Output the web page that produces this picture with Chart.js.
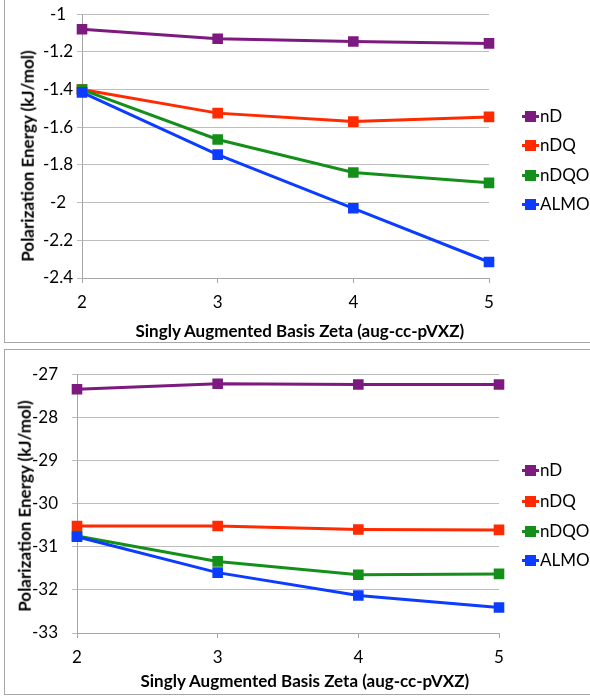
<!DOCTYPE html>
<html>
<head>
<meta charset="utf-8">
<script src="https://cdn.jsdelivr.net/npm/chart.js@4"></script>
<style>
  body { margin: 0; background: #fff; font-family: Lato, sans-serif; }
  .box {
    position: absolute;
    left: 4px;
    width: 600px;
    border: 1px solid #a6a6a6;
    overflow: hidden;
  }
  .box canvas { position: absolute; left: 0; top: 0; }
  .title {
    position: absolute;
    font-size: 17px;
    font-weight: bold;
    white-space: nowrap;
    color: #000;
    line-height: 20px;
  }
  .legend { position: absolute; left: 517px; }
  .legend div {
    position: absolute;
    left: 0;
    height: 20px;
    line-height: 20px;
    white-space: nowrap;
    font-size: 17px;
    color: #000;
  }
  .legend .key {
    display: inline-block;
    position: relative;
    width: 17px;
    height: 3px;
    vertical-align: middle;
    margin-right: 1px;
    margin-top: -2px;
  }
  .legend .key i {
    position: absolute;
    left: 3px;
    top: -4px;
    width: 11px;
    height: 11px;
    background: inherit;
  }
</style>
</head>
<body>

<div class="box" id="box1" style="top:-1px;height:342px">
  <canvas id="c1" width="585" height="342"></canvas>
  <div class="legend" id="lg1"></div>
</div>
<div class="box" id="box2" style="top:349px;height:344px">
  <canvas id="c2" width="585" height="344"></canvas>
  <div class="legend" id="lg2"></div>
</div>

<script>
const zetas = ["2", "3", "4", "5"];
const seriesNames = ["nD", "nDQ", "nDQO", "ALMO"];
const seriesColors = ["#7d1a7f", "#ff2a00", "#14901a", "#0b3cff"];

// upper panel
const topND   = [-1.08, -1.13, -1.145, -1.155];
const topNDQ  = [-1.40, -1.525, -1.57, -1.545];
const topNDQO = [-1.40, -1.665, -1.84, -1.895];
const topALMO = [-1.415, -1.745, -2.03, -2.315];
const topTicks = [-1, -1.2, -1.4, -1.6, -1.8, -2, -2.2, -2.4];

// lower panel
const botND   = [-27.35, -27.22, -27.24, -27.24];
const botNDQ  = [-30.52, -30.52, -30.60, -30.61];
const botNDQO = [-30.75, -31.34, -31.65, -31.63];
const botALMO = [-30.77, -31.60, -32.13, -32.41];
const botTicks = [-27, -28, -29, -30, -31, -32, -33];

const xTitle = "Singly Augmented Basis Zeta (aug-cc-pVXZ)";
const yTitle = "Polarization Energy (kJ/mol)";

function makeChart(canvasId, series, ticks, L) {
  const datasets = series.map((vals, i) => ({
    label: seriesNames[i],
    data: vals,
    borderColor: seriesColors[i],
    backgroundColor: seriesColors[i],
    borderWidth: 3,
    pointStyle: "rect",
    pointRadius: 7.5,
    pointBorderWidth: 0,
    tension: 0,
    order: series.length - i
  }));

  new Chart(document.getElementById(canvasId), {
    type: "line",
    data: { labels: zetas, datasets },
    options: {
      responsive: false,
      animation: false,
      events: [],
      layout: { padding: { left: 0, right: L.padRight, top: L.padTop, bottom: 0 } },
      plugins: { legend: { display: false }, tooltip: { enabled: false } },
      scales: {
        x: {
          type: "category",
          offset: false,
          afterFit: s => { s.height = L.xHeight; },
          grid: { drawOnChartArea: false, drawTicks: true, tickLength: 5, color: "#a6a6a6" },
          border: { color: "#a6a6a6", width: 1 },
          ticks: { padding: 9, color: "#000", font: { family: "Lato", size: 17, lineHeight: 1.2 } }
        },
        y: {
          min: Math.min(...ticks),
          max: Math.max(...ticks),
          afterFit: s => { s.width = L.yWidth; },
          afterBuildTicks: s => { s.ticks = ticks.map(v => ({ value: v })); },
          grid: { color: "#bdbdbd", lineWidth: 1, tickLength: 5 },
          border: { color: "#a6a6a6", width: 1 },
          ticks: {
            padding: L.yTickPad,
            crossAlign: "center",
            color: "#000",
            font: { family: "Lato", size: 17, lineHeight: 1.2 },
            callback: v => String(+v.toFixed(1))
          }
        }
      }
    }
  });
}

// axis titles as text, centred where Excel put them (over the whole box)
function addTitles(boxId, xc, yc) {
  const box = document.getElementById(boxId);
  const xt = document.createElement("div");
  xt.className = "title";
  xt.textContent = xTitle;
  box.appendChild(xt);
  xt.style.left = (xc[0] - xt.offsetWidth / 2) + "px";
  xt.style.top = (xc[1] - 10) + "px";

  const yt = document.createElement("div");
  yt.className = "title";
  yt.textContent = yTitle;
  box.appendChild(yt);
  yt.style.left = (yc[0] - yt.offsetWidth / 2) + "px";
  yt.style.top = (yc[1] - 10) + "px";
  yt.style.transform = "rotate(-90deg)";
}

function makeLegend(id, rows) {
  const el = document.getElementById(id);
  seriesNames.forEach((name, i) => {
    const d = document.createElement("div");
    d.style.top = (rows[i] - 10) + "px";
    const k = document.createElement("span");
    k.className = "key";
    k.style.background = seriesColors[i];
    k.appendChild(document.createElement("i"));
    d.appendChild(k);
    d.appendChild(document.createTextNode(name));
    el.appendChild(d);
  });
}

makeChart("c1", [topND, topNDQ, topNDQO, topALMO], topTicks,
  { padRight: 101, padTop: 13, xHeight: 64, yWidth: 77, yTickPad: 4, yTitlePad: 12 });
makeChart("c2", [botND, botNDQ, botNDQO, botALMO], botTicks,
  { padRight: 91, padTop: 12, xHeight: 61, yWidth: 72, yTickPad: 14, yTitlePad: 9 });

// positions inside each box (box-local px)
addTitles("box1", [295, 331], [22, 156]);
addTitles("box2", [300, 331], [19, 156]);

makeLegend("lg1", [116, 145, 175, 204]);
makeLegend("lg2", [120, 151, 181, 210]);
</script>
</body>
</html>
